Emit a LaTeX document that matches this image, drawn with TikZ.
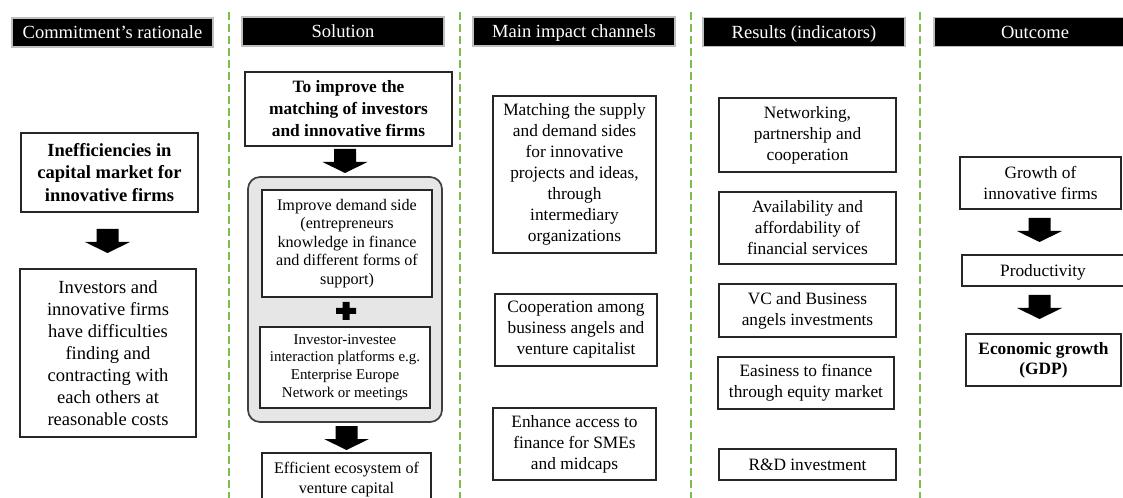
\documentclass[tikz,border=0pt]{standalone}
\usepackage{fontspec}
\setmainfont{Liberation Serif}
\definecolor{dashgreen}{RGB}{122,190,80}
\definecolor{panelgray}{RGB}{230,230,230}
\begin{document}
\begin{tikzpicture}[x=0.75pt,y=-0.75pt,
  base/.style={inner sep=0pt, align=center, font=\fontsize{13}{15.8}\selectfont},
  wh/.style 2 args={minimum width=#1*0.75pt, minimum height=#2*0.75pt},
  oneline/.style={text height=8.6pt, text depth=0pt},
  hdr/.style={base, text height=9.2pt, text depth=0pt, font=\fontsize{13.9}{16.5}\selectfont, fill=black, draw=black!25, line width=0.8pt, text=white},
  box/.style={base, draw=black!85, line width=0.9pt, fill=white},
  bigbox/.style={box, font=\fontsize{13.9}{16.5}\selectfont},
  bbox/.style={box, font=\fontsize{13.9}{16.8}\selectfont\bfseries},
  bboxs/.style={box, font=\fontsize{13}{16.5}\selectfont\bfseries},
  smallA/.style={box, font=\fontsize{12.1}{13.8}\selectfont},
  smallB/.style={box, font=\fontsize{11.2}{13.3}\selectfont},
  sep/.style={draw=dashgreen, line width=1pt, dash pattern=on 6pt off 3pt},
  panel/.style={draw=black!75, line width=1.3pt, fill=panelgray, rounded corners=9pt, inner sep=0pt},
  barrow/.pic={\fill[black] (-11,0) -- (11,0) -- (11,13) -- (22.5,13) -- (0,24) -- (-22.5,13) -- (-11,13) -- cycle;},
  plussign/.pic={\fill[black] (-3.5,-9) -- (3.5,-9) -- (3.5,-3) -- (10,-3) -- (10,3) -- (3.5,3) -- (3.5,9) -- (-3.5,9) -- (-3.5,3) -- (-10,3) -- (-10,-3) -- (-3.5,-3) -- cycle;}
]
\clip (0,0) rectangle (1123,498);
\fill[white] (0,0) rectangle (1123,498);

% separators
\coordinate (s1t) at (229,12); \coordinate (s1b) at (229,500);
\coordinate (s2t) at (460,12); \coordinate (s2b) at (460,500);
\coordinate (s3t) at (691,12); \coordinate (s3b) at (691,500);
\coordinate (s4t) at (920,12); \coordinate (s4b) at (920,500);
\draw[sep] (s1t) -- (s1b);
\draw[sep] (s2t) -- (s2b);
\draw[sep] (s3t) -- (s3b);
\draw[sep] (s4t) -- (s4b);

% headers
\node[hdr, wh={201}{29}] (h1) at (112.5,32.5) {Commitment’s rationale};
\node[hdr, wh={202}{29}] (h2) at (343,31.5) {Solution};
\node[hdr, wh={202}{29}] (h3) at (574,31.5) {Main impact channels};
\node[hdr, wh={202}{29}] (h4) at (804,32) {Results (indicators)};
\node[hdr, wh={202}{29}] (h5) at (1035,32) {Outcome};

% column 1
\node[bbox, wh={177}{79}] (a1) at (109.5,172.5) {Inefficiencies in\\capital market for\\innovative firms};
\pic at (107.5,229) {barrow};
\node[bigbox, wh={176}{168}] (a2) at (108,353) {Investors and\\innovative firms\\have difficulties\\finding and\\contracting with\\each others at\\reasonable costs};

% column 2
\node[bboxs, wh={207}{74}] (b1) at (348.5,109) {To improve the\\matching of investors\\and innovative firms};
\pic at (345,149) {barrow};
\node[panel, wh={194}{245}] (panel) at (345,299.5) {};
\node[smallA, wh={170}{107}] (b2) at (347,243.5) {Improve demand side\\(entrepreneurs\\knowledge in finance\\and different forms of\\support)};
\pic at (346,311) {plussign};
\node[smallB, wh={170}{81}] (b3) at (345,367.5) {Investor-investee\\interaction platforms e.g.\\Enterprise Europe\\Network or meetings};
\pic at (346.5,426) {barrow};
\node[box, wh={169}{53}, font=\fontsize{12.1}{15.5}\selectfont] (b4) at (346.5,479.5) {Efficient ecosystem of\\venture capital};

% column 3
\node[box, wh={163}{157}] (c1) at (574.5,174.5) {Matching the supply\\and demand sides\\for innovative\\projects and ideas,\\through\\intermediary\\organizations};
\node[box, wh={162}{72}] (c2) at (576,330) {Cooperation among\\business angels and\\venture capitalist};
\node[box, wh={163}{72}] (c3) at (574.5,444) {Enhance access to\\finance for SMEs\\and midcaps};

% column 4
\node[box, wh={177}{74}] (d1) at (807.5,135) {Networking,\\partnership and\\cooperation};
\node[box, wh={177}{72}] (d2) at (807.5,228) {Availability and\\affordability of\\financial services};
\node[box, wh={177}{53}] (d3) at (807.5,310.5) {VC and Business\\angels investments};
\node[box, wh={176}{52}] (d4) at (806,383) {Easiness to finance\\through equity market};
\node[box, oneline, wh={177}{31}] (d5) at (807.5,464.5) {R\&D investment};

% column 5
\node[box, wh={161}{52}] (e1) at (1040.5,183) {Growth of\\innovative firms};
\pic at (1039.5,218) {barrow};
\node[box, oneline, wh={162}{31}] (e2) at (1043,270.5) {Productivity};
\pic at (1039.5,295) {barrow};
\node[box, wh={155}{52}, font=\fontsize{13}{15}\selectfont\bfseries] (e3) at (1043.5,360) {Economic growth\\(GDP)};
\end{tikzpicture}
\end{document}
